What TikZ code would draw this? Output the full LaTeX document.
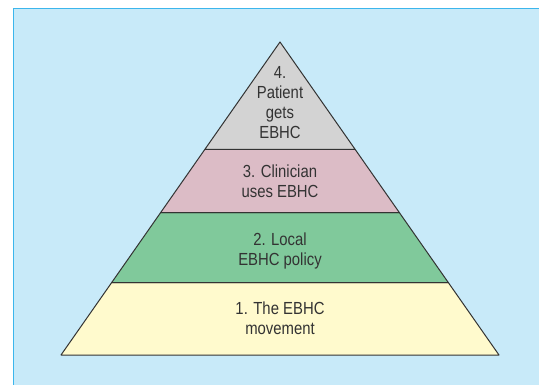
\documentclass[tikz,border=0pt]{standalone}
\usepackage{fontspec}
\setmainfont[FakeStretch=0.85]{Liberation Sans}
\usetikzlibrary{calc}
\definecolor{bgblue}{RGB}{200,234,249}
\definecolor{edgeblue}{RGB}{60,182,236}
\definecolor{laygray}{RGB}{211,211,211}
\definecolor{laypink}{RGB}{220,188,198}
\definecolor{laygreen}{RGB}{128,201,155}
\definecolor{layyellow}{RGB}{255,250,205}
\definecolor{inkgray}{RGB}{51,51,51}
\tikzset{
  layer/.style={draw=inkgray, line width=1pt, line join=round},
  lbl/.style={align=center, inner sep=0pt, text=inkgray,
    font=\fontsize{17.5}{20}\selectfont}
}
\begin{document}
\begin{tikzpicture}[x=1pt,y=-1pt]
\useasboundingbox (0,0) rectangle (539,385);
\fill[white] (0,0) rectangle (539,385);
\filldraw[fill=bgblue, draw=edgeblue, line width=1.2pt] (13.5,8.8) rectangle (545,392);
\coordinate (A) at (280,42);
\coordinate (L) at (61,355);
\coordinate (R) at (499,355);
\coordinate (L1) at ($(A)!0.7690!(L)$);
\coordinate (R1) at ($(A)!0.7690!(R)$);
\coordinate (L2) at ($(A)!0.5454!(L)$);
\coordinate (R2) at ($(A)!0.5454!(R)$);
\coordinate (L3) at ($(A)!0.3428!(L)$);
\coordinate (R3) at ($(A)!0.3428!(R)$);
\filldraw[layer, fill=layyellow] (L) -- (R) -- (R1) -- (L1) -- cycle;
\filldraw[layer, fill=laygreen] (L1) -- (R1) -- (R2) -- (L2) -- cycle;
\filldraw[layer, fill=laypink] (L2) -- (R2) -- (R3) -- (L3) -- cycle;
\filldraw[layer, fill=laygray] (L3) -- (R3) -- (A) -- cycle;
\node[lbl] (t4) at (280,102.5) {4.\\Patient\\gets\\EBHC};
\node[lbl] (t3) at (280,181.7) {3. Clinician\\uses EBHC};
\node[lbl] (t2) at (280,250.5) {2. Local\\EBHC policy};
\node[lbl] (t1) at (280,318.5) {1. The EBHC\\movement};
\end{tikzpicture}
\end{document}
